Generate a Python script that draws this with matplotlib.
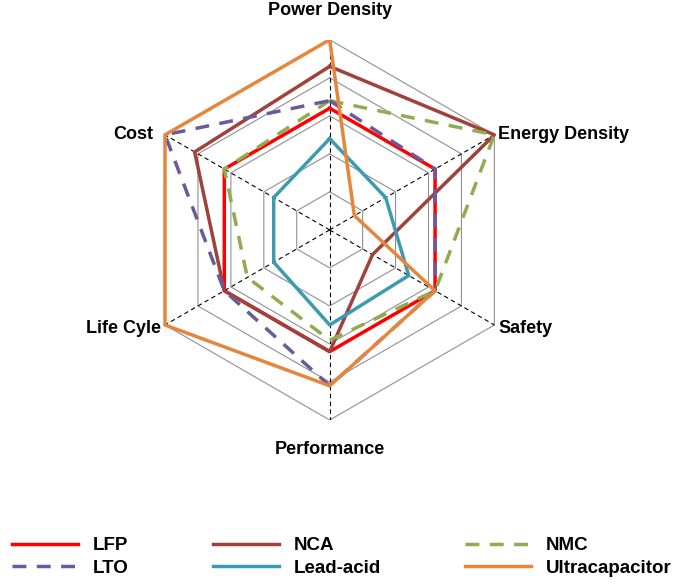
import numpy as np
import matplotlib
matplotlib.use("Agg")
from matplotlib import pyplot as plt

axes_names = ["Power Density", "Energy Density", "Safety", "Performance", "Life Cyle", "Cost"]
lfp = [3.2, 3.2, 3.2, 3.2, 3.2, 3.2]
nca = [4.3, 5.0, 1.3, 3.2, 3.2, 4.1]
nmc = [3.4, 5.0, 3.2, 2.9, 2.5, 3.2]
lto = [3.4, 3.2, 3.2, 4.1, 3.2, 5.0]
lead = [2.4, 1.7, 2.4, 2.5, 1.7, 1.7]
ultra = [5.0, 0.75, 3.2, 4.1, 5.0, 5.0]

series = [
    ("LFP", lfp, "#ff0000", "-"),
    ("NCA", nca, "#a0413c", "-"),
    ("NMC", nmc, "#8fad4f", (0, (4, 3))),
    ("LTO", lto, "#6a5a9a", (0, (4, 3))),
    ("Lead-acid", lead, "#3d9ab0", "-"),
    ("Ultracapacitor", ultra, "#e6863a", "-"),
]

plt.rcParams['font.family'] = ['Liberation Sans', 'DejaVu Sans']
fig = plt.figure(figsize=(6.84, 5.85), dpi=100)
ax = fig.add_axes([0.204, 0.282, 0.556, 0.65])
ax.set_xlim(-5.0, 5.0)
ax.set_ylim(-5.0, 5.0)
ax.axis('off')

ang = np.pi / 2 - np.arange(6) * np.pi / 3
for lvl in range(1, 6):
    xs = np.append(lvl * np.cos(ang), lvl * np.cos(ang[0]))
    ys = np.append(lvl * np.sin(ang), lvl * np.sin(ang[0]))
    ax.plot(xs, ys, color="#909090", lw=0.8, zorder=1)
for a in ang:
    ax.plot([0, 5 * np.cos(a)], [0, 5 * np.sin(a)], color="black", lw=0.8, ls=(0, (4, 3)), zorder=1)

handles = {}
for name, vals, col, ls in series:
    v = np.array(vals + vals[:1])
    a = np.append(ang, ang[0])
    handles[name], = ax.plot(v * np.cos(a), v * np.sin(a), color=col, lw=2.5, ls=ls, label=name, zorder=2)

offs = [(0, 0.55, 'center', 'bottom'), (0.1, 0, 'left', 'center'), (0.1, -0.1, 'left', 'center'),
        (0, -0.55, 'center', 'top'), (-0.1, -0.1, 'right', 'center'), (-0.3, 0, 'right', 'center')]
for name, a, (dx, dy, ha, va) in zip(axes_names, ang, offs):
    ax.text(5 * np.cos(a) + dx, 5 * np.sin(a) + dy, name, ha=ha, va=va,
            fontsize=13, fontweight='bold')

order = ["LFP", "LTO", "NCA", "Lead-acid", "NMC", "Ultracapacitor"]
fig.legend([handles[n] for n in order], order, loc='lower center', bbox_to_anchor=(0.5, -0.015),
           ncol=3, frameon=False, prop={'size': 13.5, 'weight': 'bold'},
           columnspacing=4.5, handlelength=3.5, labelspacing=0.3)
fig.savefig("out.png")
